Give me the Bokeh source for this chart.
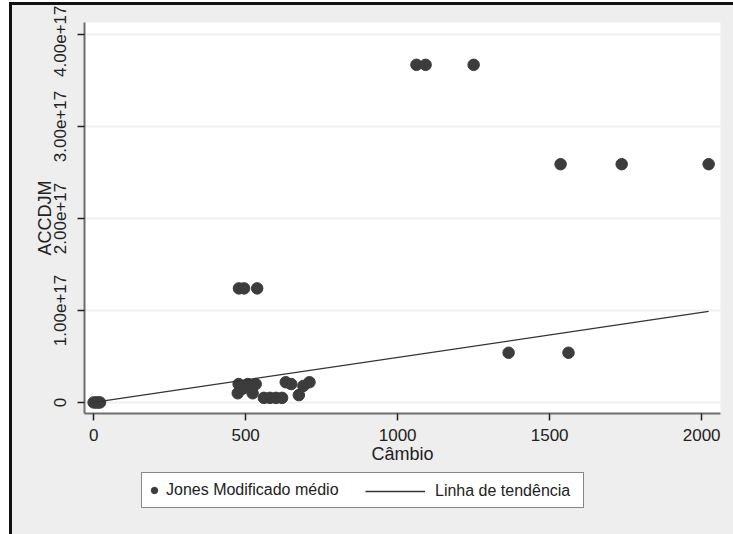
from bokeh.plotting import figure
from bokeh.layouts import column
from bokeh.models import Range1d, FixedTicker, CustomJSTickFormatter, Legend, LegendItem
from bokeh.embed import file_html
from bokeh.resources import INLINE

# ---- data ----
cambio = [0, 8, 14, 21,
          478, 495, 538,
          477, 507, 533, 474, 523, 490, 520,
          560, 580, 600, 620,
          632, 650, 675, 690, 710,
          1062, 1092, 1250,
          1536, 1737, 2023,
          1365, 1562]
accdjm = [0.0, 0.0, 0.0, 0.0,
          1.24e17, 1.24e17, 1.24e17,
          0.20e17, 0.20e17, 0.20e17, 0.10e17, 0.10e17, 0.15e17, 0.17e17,
          0.05e17, 0.05e17, 0.05e17, 0.05e17,
          0.22e17, 0.20e17, 0.08e17, 0.18e17, 0.22e17,
          3.67e17, 3.67e17, 3.67e17,
          2.59e17, 2.59e17, 2.59e17,
          0.54e17, 0.54e17]
trend_x = [0, 2023]
trend_y = [0.0, 0.99e17]

x_ticks = [0, 500, 1000, 1500, 2000]
y_ticks = [0, 1e17, 2e17, 3e17, 4e17]
y_tick_labels = ["0", "1.00e+17", "2.00e+17", "3.00e+17", "4.00e+17"]

series_label = "Jones Modificado médio"
trend_label = "Linha de tendência"

FONT = "Liberation Sans"
BG = "#eeeeee"
INK = "#222222"
DOT = "#3c3c3c"

p = figure(width=721, height=466, output_backend="svg", toolbar_location=None,
           x_range=Range1d(-30, 2062), y_range=Range1d(-0.12e17, 4.13e17),
           min_border_left=72, min_border_top=17, min_border_right=13,
           min_border_bottom=58)
p.background_fill_color = "white"
p.border_fill_color = None
p.outline_line_color = None

p.xgrid.grid_line_color = None
p.ygrid.grid_line_color = "#f0f0f0"
p.ygrid.grid_line_width = 2

p.xaxis.ticker = FixedTicker(ticks=x_ticks)
p.yaxis.ticker = FixedTicker(ticks=y_ticks)
p.yaxis.formatter = CustomJSTickFormatter(
    args=dict(tvals=y_ticks, tlabels=y_tick_labels),
    code="const i = tvals.indexOf(tick); return i >= 0 ? tlabels[i] : '';")
p.yaxis.major_label_orientation = "vertical"

for ax in (p.xaxis[0], p.yaxis[0]):
    ax.axis_line_color = "#6e6e6e"
    ax.axis_line_width = 2
    ax.major_tick_line_color = INK
    ax.major_tick_line_width = 1.5
    ax.major_tick_out = 7
    ax.major_tick_in = 0
    ax.minor_tick_line_color = None
    ax.major_label_text_font = FONT
    ax.major_label_text_font_size = "17px"
    ax.major_label_text_color = INK
    ax.axis_label_text_font = FONT
    ax.axis_label_text_font_size = "18px"
    ax.axis_label_text_font_style = "normal"
    ax.axis_label_text_color = INK

p.xaxis.major_label_standoff = 8
p.xaxis.axis_label_standoff = 0
p.yaxis.major_label_standoff = 11
p.yaxis.axis_label_standoff = -3
p.xaxis.axis_label = "Câmbio"
p.yaxis.axis_label = "ACCDJM"

p.scatter(cambio, accdjm, size=11.5, color=DOT)
p.line(trend_x, trend_y, line_color="#333333", line_width=1.3)

# ---- legend strip (separate canvas below the plot, so it is not clipped) ----
q = figure(width=721, height=63, output_backend="svg", toolbar_location=None,
           x_range=Range1d(0, 1), y_range=Range1d(0, 1),
           min_border_left=0, min_border_right=0, min_border_top=0, min_border_bottom=0)
q.axis.visible = False
q.grid.visible = False
q.outline_line_color = None
q.background_fill_color = None
q.border_fill_color = None
# hidden proxies of the two series, used only for their legend glyphs
lp = q.scatter(cambio, accdjm, size=11.5, color=DOT, visible=False)
ll = q.line(trend_x, trend_y, line_color="#333333", line_width=1.3, visible=False)

common = dict(orientation="horizontal", padding=4, margin=0, spacing=0,
              glyph_height=26, label_height=26,
              label_text_font=FONT, label_text_font_size="16px",
              label_text_color=INK, inactive_fill_alpha=0.0)
leg_a = Legend(items=[LegendItem(label=series_label, renderers=[lp])],
               location=(57, 26), glyph_width=16, label_standoff=4, label_width=413,
               border_line_color="#111111", border_line_width=1.5,
               background_fill_color="white", background_fill_alpha=1.0, **common)
leg_b = Legend(items=[LegendItem(label=trend_label, renderers=[ll])],
               location=(281, 30), glyph_width=60, label_standoff=10,
               border_line_color=None, background_fill_alpha=0.0, **common)
q.add_layout(leg_a, "center")
q.add_layout(leg_b, "center")

layout = column(p, q, spacing=0)
layout.styles = {"margin-left": "9px", "margin-top": "2px", "background-color": BG,
                 "border-left": "3px solid #111111", "border-top": "3px solid #111111"}

open("out.html", "w").write(file_html(layout, INLINE))
